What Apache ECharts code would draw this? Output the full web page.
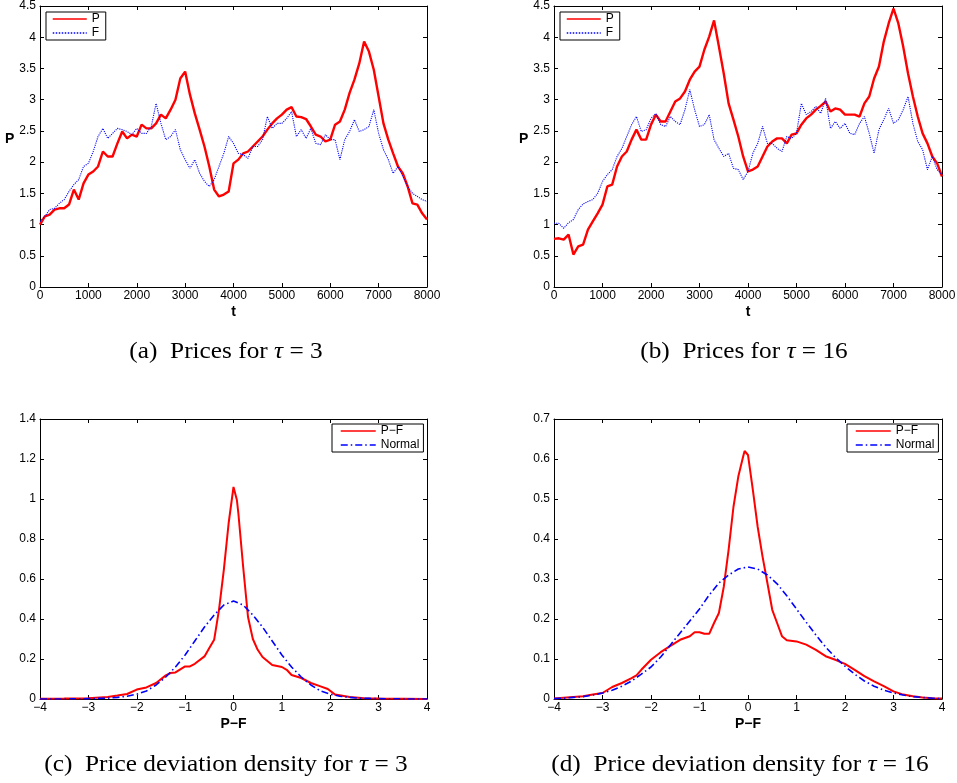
<!DOCTYPE html>
<html>
<head>
<meta charset="utf-8">
<script src="https://cdn.jsdelivr.net/npm/echarts@6/dist/echarts.min.js"></script>
<style>
html, body { margin: 0; padding: 0; background: #fff; }
#main { width: 957px; height: 783px; }
</style>
</head>
<body>
<div id="main"></div>
<script>
// Sample times of the simulated price paths
const timeSteps = [
  0, 100, 200, 300, 400, 500, 600, 700, 800, 900,
  1000, 1100, 1200, 1300, 1400, 1500, 1600, 1700, 1800, 1900,
  2000, 2100, 2200, 2300, 2400, 2500, 2600, 2700, 2800, 2900,
  3000, 3100, 3200, 3300, 3400, 3500, 3600, 3700, 3800, 3900,
  4000, 4100, 4200, 4300, 4400, 4500, 4600, 4700, 4800, 4900,
  5000, 5100, 5200, 5300, 5400, 5500, 5600, 5700, 5800, 5900,
  6000, 6100, 6200, 6300, 6400, 6500, 6600, 6700, 6800, 6900,
  7000, 7100, 7200, 7300, 7400, 7500, 7600, 7700, 7800, 7900,
  8000
];

// Market price P and fundamental F, tau = 3
const priceP3 = [
  1.0, 1.13, 1.16, 1.24, 1.26, 1.26, 1.32, 1.56, 1.4, 1.66,
  1.8, 1.85, 1.93, 2.17, 2.09, 2.09, 2.3, 2.49, 2.38, 2.44,
  2.41, 2.6, 2.54, 2.54, 2.62, 2.76, 2.7, 2.84, 3.0, 3.34,
  3.45, 3.08, 2.78, 2.52, 2.25, 1.93, 1.56, 1.45, 1.48, 1.53,
  1.98, 2.04, 2.14, 2.17, 2.25, 2.33, 2.41, 2.52, 2.62, 2.7,
  2.76, 2.84, 2.88, 2.73, 2.72, 2.69, 2.57, 2.44, 2.41, 2.33,
  2.36, 2.6, 2.65, 2.84, 3.11, 3.32, 3.58, 3.93, 3.77, 3.48,
  3.05, 2.62, 2.36, 2.14, 1.93, 1.82, 1.61, 1.34, 1.32, 1.18,
  1.08
];
const fundF3 = [
  1.05, 1.13, 1.24, 1.26, 1.34, 1.4, 1.53, 1.64, 1.72, 1.93,
  1.98, 2.17, 2.41, 2.54, 2.38, 2.46, 2.54, 2.52, 2.49, 2.44,
  2.54, 2.46, 2.46, 2.57, 2.94, 2.62, 2.36, 2.41, 2.52, 2.2,
  2.04, 1.9, 2.04, 1.82, 1.69, 1.61, 1.72, 1.93, 2.14, 2.41,
  2.3, 2.14, 2.12, 2.06, 2.25, 2.25, 2.36, 2.73, 2.54, 2.62,
  2.62, 2.7, 2.81, 2.41, 2.52, 2.38, 2.54, 2.3, 2.28, 2.44,
  2.36, 2.36, 2.04, 2.36, 2.49, 2.68, 2.49, 2.52, 2.57, 2.84,
  2.46, 2.2, 2.04, 1.82, 1.93, 1.77, 1.61, 1.5, 1.45, 1.4,
  1.37
];

// Market price P and fundamental F, tau = 16
const priceP16 = [
  0.77, 0.78, 0.76, 0.84, 0.52, 0.65, 0.68, 0.92, 1.05, 1.18,
  1.32, 1.61, 1.64, 1.93, 2.09, 2.17, 2.36, 2.52, 2.36, 2.36,
  2.6, 2.76, 2.65, 2.65, 2.81, 2.97, 3.02, 3.13, 3.32, 3.45,
  3.53, 3.8, 4.01, 4.27, 3.85, 3.42, 2.94, 2.68, 2.41, 2.09,
  1.85, 1.88, 1.93, 2.09, 2.25, 2.33, 2.38, 2.38, 2.3, 2.44,
  2.46, 2.6, 2.7, 2.76, 2.84, 2.9, 2.97, 2.81, 2.86, 2.84,
  2.76, 2.76, 2.76, 2.73, 2.94, 3.05, 3.34, 3.53, 3.93, 4.22,
  4.46, 4.22, 3.85, 3.42, 3.05, 2.73, 2.46, 2.3, 2.09, 1.98,
  1.77
];
const fundF16 = [
  1.02, 1.02, 0.94, 1.03, 1.08, 1.24, 1.33, 1.37, 1.4, 1.5,
  1.69, 1.8, 1.88, 2.09, 2.22, 2.41, 2.6, 2.73, 2.49, 2.52,
  2.7, 2.78, 2.6, 2.57, 2.73, 2.65, 2.6, 2.84, 3.16, 2.84,
  2.57, 2.6, 2.76, 2.36, 2.22, 2.09, 2.14, 1.9, 1.88, 1.72,
  1.85, 2.14, 2.3, 2.57, 2.3, 2.3, 2.22, 2.17, 2.41, 2.38,
  2.46, 2.94, 2.76, 2.81, 2.89, 2.78, 3.02, 2.54, 2.65, 2.54,
  2.62, 2.46, 2.44, 2.62, 2.73, 2.46, 2.14, 2.52, 2.68, 2.86,
  2.62, 2.68, 2.84, 3.05, 2.62, 2.33, 2.2, 1.88, 2.09, 1.88,
  1.8
];

// Estimated density of the deviation P-F, tau = 3
const devX3 = [
  -4, -3.5, -3, -2.6, -2.4, -2.2, -2.0, -1.8, -1.6, -1.4,
  -1.3, -1.2, -1.0, -0.9, -0.8, -0.6, -0.5, -0.4, -0.3, -0.2,
  -0.1, 0, 0.07, 0.1, 0.2, 0.3, 0.4, 0.5, 0.6, 0.8,
  1.0, 1.1, 1.2, 1.4, 1.6, 1.8, 1.95, 2.1, 2.4, 2.7,
  3.0, 3.5, 4
];
const devY3 = [
  0.001, 0.002, 0.004, 0.01, 0.017, 0.025, 0.047, 0.058, 0.08, 0.118,
  0.13, 0.133, 0.163, 0.163, 0.176, 0.213, 0.255, 0.296, 0.446, 0.646,
  0.88, 1.06, 0.995, 0.93, 0.66, 0.41, 0.3, 0.246, 0.21, 0.17,
  0.16, 0.146, 0.12, 0.105, 0.08, 0.063, 0.05, 0.022, 0.01, 0.004,
  0.002, 0.001, 0
];

// Estimated density of the deviation P-F, tau = 16
const devX16 = [
  -4, -3.6, -3.4, -3.2, -3.0, -2.8, -2.6, -2.4, -2.3, -2.2,
  -2.0, -1.8, -1.6, -1.4, -1.2, -1.1, -1.0, -0.9, -0.8, -0.7,
  -0.6, -0.5, -0.4, -0.3, -0.2, -0.1, -0.07, 0.0, 0.1, 0.2,
  0.3, 0.4, 0.5, 0.6, 0.7, 0.8, 1.0, 1.2, 1.4, 1.6,
  1.8, 2.0, 2.2, 2.4, 2.6, 2.8, 3.0, 3.2, 3.4, 3.6,
  3.8, 4.0
];
const devY16 = [
  0.001, 0.005, 0.007, 0.011, 0.015, 0.03, 0.04, 0.052, 0.059, 0.073,
  0.098, 0.117, 0.133, 0.148, 0.157, 0.167, 0.167, 0.163, 0.163, 0.19,
  0.215, 0.28, 0.373, 0.48, 0.556, 0.606, 0.62, 0.61, 0.523, 0.43,
  0.356, 0.29, 0.223, 0.19, 0.157, 0.147, 0.144, 0.136, 0.123, 0.107,
  0.098, 0.088, 0.073, 0.057, 0.044, 0.032, 0.019, 0.011, 0.007, 0.004,
  0.002, 0.001
];

// Fitted normal densities on a 0.2 grid
const normalX = [
  -4, -3.8, -3.6, -3.4, -3.2, -3.0, -2.8, -2.6, -2.4, -2.2,
  -2.0, -1.8, -1.6, -1.4, -1.2, -1.0, -0.8, -0.6, -0.4, -0.2,
  0,
  0.2, 0.4, 0.6, 0.8, 1.0, 1.2, 1.4, 1.6, 1.8, 2.0,
  2.2, 2.4, 2.6, 2.8, 3.0, 3.2, 3.4, 3.6, 3.8, 4.0
];
const normalY3 = [
  0, 0, 0, 0.001, 0.001, 0.002, 0.003, 0.004, 0.008, 0.014,
  0.024, 0.04, 0.07, 0.11, 0.16, 0.22, 0.29, 0.36, 0.42, 0.47,
  0.49,
  0.47, 0.42, 0.36, 0.29, 0.22, 0.16, 0.11, 0.07, 0.04, 0.024,
  0.014, 0.008, 0.004, 0.003, 0.002, 0.001, 0.001, 0, 0, 0
];
const normalY16 = [
  0.001, 0.002, 0.004, 0.006, 0.01, 0.015, 0.022, 0.032, 0.045, 0.062,
  0.08, 0.105, 0.135, 0.165, 0.195, 0.225, 0.26, 0.29, 0.31, 0.325,
  0.33,
  0.325, 0.31, 0.288, 0.258, 0.225, 0.192, 0.16, 0.13, 0.104, 0.082,
  0.062, 0.045, 0.032, 0.022, 0.015, 0.01, 0.006, 0.004, 0.002, 0.001
];

// Axis ranges
const priceTimeRange = { min: 0, max: 8000, interval: 1000 };
const priceValueRange = { min: 0, max: 4.5, interval: 0.5 };
const devRange = { min: -4, max: 4, interval: 1 };
const densityRange3 = { min: 0, max: 1.4, interval: 0.2 };
const densityRange16 = { min: 0, max: 0.7, interval: 0.1 };

const SANS = '"Liberation Sans", Arial, Helvetica, sans-serif';
const SERIF = '"Liberation Serif", "Times New Roman", serif';
const RED = '#ff0000';
const BLUE = '#0000ff';

const gridBoxes = [
  { left: 40, top: 6, width: 387, height: 281 },
  { left: 554, top: 6, width: 388, height: 281 },
  { left: 40, top: 419, width: 387, height: 280 },
  { left: 554, top: 419, width: 388, height: 280 }
];

const fmtNum = v => String(+v.toFixed(4)).replace('-', '\u2212');

function mainAxis(gridIndex, range, position, extra) {
  return Object.assign({
    type: 'value', gridIndex, position,
    min: range.min, max: range.max, interval: range.interval,
    axisLine: { show: true, onZero: false, lineStyle: { color: '#000', width: 1 } },
    axisTick: { show: true, inside: true, length: 4, lineStyle: { color: '#000' } },
    axisLabel: {
      show: true, color: '#000', fontFamily: SANS, fontSize: 12,
      margin: (position === 'bottom') ? 3 : 4, formatter: fmtNum
    },
    splitLine: { show: false }
  }, extra || {});
}
function mirrorAxis(gridIndex, range, position) {
  return {
    type: 'value', gridIndex, position,
    min: range.min, max: range.max, interval: range.interval,
    axisLine: { show: true, onZero: false, lineStyle: { color: '#000', width: 1 } },
    axisTick: { show: true, inside: true, length: 4, lineStyle: { color: '#000' } },
    axisLabel: { show: false },
    splitLine: { show: false }
  };
}

const boldName = { fontFamily: SANS, fontWeight: 'bold', fontSize: 14, color: '#000' };

const xAxes = [];
const yAxes = [];
// (a), (b): price paths
[0, 1].forEach(g => {
  xAxes.push(mainAxis(g, priceTimeRange, 'bottom', {
    name: 't', nameLocation: 'middle', nameGap: 18, nameTextStyle: boldName
  }));
  xAxes.push(mirrorAxis(g, priceTimeRange, 'top'));
  yAxes.push(mainAxis(g, priceValueRange, 'left', {
    name: 'P', nameLocation: 'middle', nameRotate: 0, nameGap: 18,
    nameTextStyle: Object.assign({ align: 'center', verticalAlign: 'bottom', padding: [0, 0, 0, 9] }, boldName)
  }));
  yAxes.push(mirrorAxis(g, priceValueRange, 'right'));
});
// (c), (d): deviation densities
[2, 3].forEach(g => {
  const dr = g === 2 ? densityRange3 : densityRange16;
  xAxes.push(mainAxis(g, devRange, 'bottom', {
    name: 'P\u2212F', nameLocation: 'middle', nameGap: 18, nameTextStyle: boldName
  }));
  xAxes.push(mirrorAxis(g, devRange, 'top'));
  yAxes.push(mainAxis(g, dr, 'left'));
  yAxes.push(mirrorAxis(g, dr, 'right'));
});

const zip = (xs, ys) => xs.map((x, i) => [x, ys[i]]);

function lineSeries(name, g, data, style) {
  return {
    type: 'line', name, xAxisIndex: 2 * g, yAxisIndex: 2 * g,
    data, symbol: 'none', showSymbol: false, smooth: false,
    animation: false, silent: true,
    lineStyle: style, itemStyle: { color: style.color }
  };
}

const priceStyle = { color: RED, width: 2.4 };
const fundStyle = { color: BLUE, width: 1.1, type: 'dotted' };
const devStyle = { color: RED, width: 2 };
const normalStyle = { color: BLUE, width: 1.6, type: [7, 3, 1.5, 3] };

const series = [
  lineSeries('P', 0, zip(timeSteps, priceP3), priceStyle),
  lineSeries('F', 0, zip(timeSteps, fundF3), fundStyle),
  lineSeries('P', 1, zip(timeSteps, priceP16), priceStyle),
  lineSeries('F', 1, zip(timeSteps, fundF16), fundStyle),
  lineSeries('P\u2212F', 2, zip(devX3, devY3), devStyle),
  lineSeries('Normal', 2, zip(normalX, normalY3), normalStyle),
  lineSeries('P\u2212F', 3, zip(devX16, devY16), devStyle),
  lineSeries('Normal', 3, zip(normalX, normalY16), normalStyle)
];

function boxLegend(names, left, top, itemWidth, padding) {
  return {
    data: names, left, top, orient: 'vertical',
    itemWidth, itemHeight: 12, itemGap: 2, padding,
    borderColor: '#000', borderWidth: 1, backgroundColor: '#fff',
    selectedMode: false,
    itemStyle: { opacity: 0 },
    lineStyle: { width: 1.5 },
    textStyle: { fontFamily: SANS, fontSize: 12, color: '#000' }
  };
}

function caption(letter, body, tauValue, cx, cy) {
  return {
    type: 'text', x: cx, y: cy, scaleX: 1.1,
    style: {
      text: '{n|(' + letter + ')  ' + body + ' }{i|\u03c4}{n| = ' + tauValue + '}',
      align: 'center', verticalAlign: 'middle',
      rich: {
        n: { fontFamily: SERIF, fontSize: 23, fill: '#000' },
        i: { fontFamily: SERIF, fontSize: 23, fontStyle: 'italic', fill: '#000' }
      }
    }
  };
}

const chart = echarts.init(document.getElementById('main'), null, { renderer: 'canvas' });
chart.setOption({
  animation: false,
  backgroundColor: '#fff',
  grid: gridBoxes.map(b => Object.assign({ containLabel: false, outerBoundsMode: 'none', show: false }, b)),
  xAxis: xAxes,
  yAxis: yAxes,
  legend: [
    boxLegend(['P', 'F'], 46, 12, 34, [1, 6, 1, 6]),
    boxLegend(['P', 'F'], 560, 12, 34, [1, 6, 1, 6]),
    boxLegend(['P\u2212F', 'Normal'], 332, 424, 35, [1, 4, 1, 8]),
    boxLegend(['P\u2212F', 'Normal'], 847, 424, 35, [1, 4, 1, 8])
  ],
  series,
  graphic: [
    caption('a', 'Prices for', '3', 226, 352),
    caption('b', 'Prices for', '16', 744, 352),
    caption('c', 'Price deviation density for', '3', 226, 765),
    caption('d', 'Price deviation density for', '16', 740, 765)
  ]
});
</script>
</body>
</html>
